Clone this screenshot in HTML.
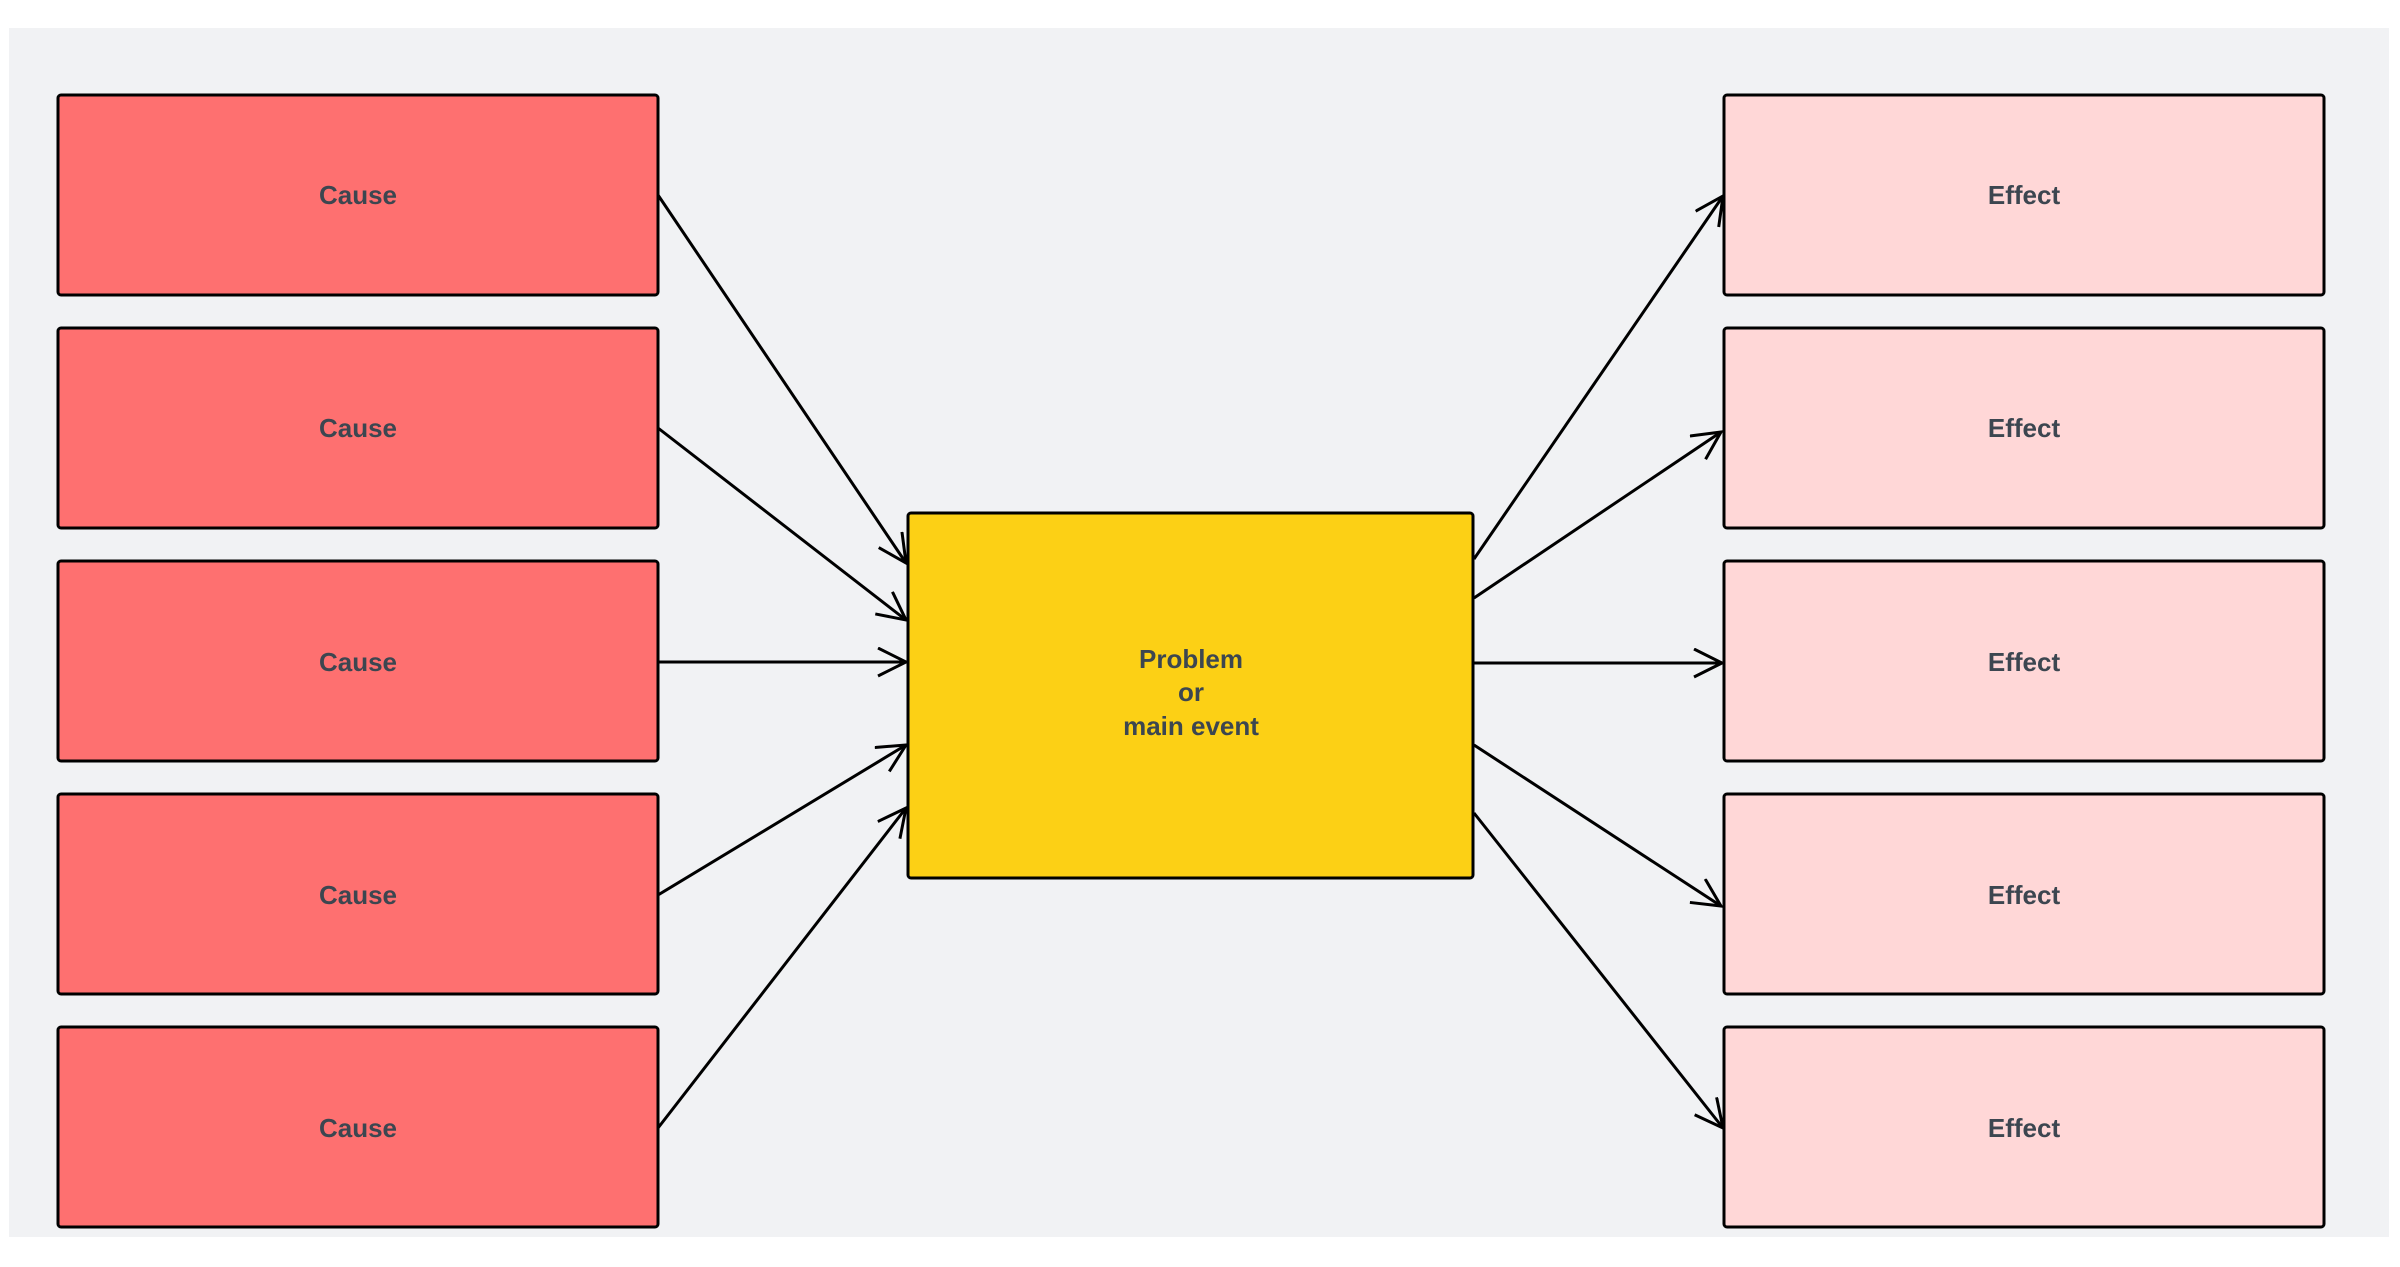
<!DOCTYPE html>
<html><head><meta charset="utf-8"><style>
body{margin:0;width:2400px;height:1267px;background:#fff;overflow:hidden}
svg{display:block}
text{font-family:"Liberation Sans",sans-serif;font-weight:bold;font-size:26px;fill:#3c4650;text-anchor:middle}
</style></head><body>
<svg width="2400" height="1267" viewBox="0 0 2400 1267">
<defs>
<marker id="a" markerUnits="userSpaceOnUse" markerWidth="40" markerHeight="40" refX="30" refY="15" orient="auto">
<polyline points="2,1 30,15 2,29" fill="none" stroke="#000" stroke-width="3"/>
</marker>
</defs>
<rect x="9" y="28" width="2380" height="1209" fill="#f1f2f4"/>
<g stroke="#000" stroke-width="3" rx="3">
<rect x="58" y="95" width="600" height="200" rx="3" fill="#fe7070"/>
<rect x="58" y="328" width="600" height="200" rx="3" fill="#fe7070"/>
<rect x="58" y="561" width="600" height="200" rx="3" fill="#fe7070"/>
<rect x="58" y="794" width="600" height="200" rx="3" fill="#fe7070"/>
<rect x="58" y="1027" width="600" height="200" rx="3" fill="#fe7070"/>
<rect x="1724" y="95" width="600" height="200" rx="3" fill="#ffd7d7"/>
<rect x="1724" y="328" width="600" height="200" rx="3" fill="#ffd7d7"/>
<rect x="1724" y="561" width="600" height="200" rx="3" fill="#ffd7d7"/>
<rect x="1724" y="794" width="600" height="200" rx="3" fill="#ffd7d7"/>
<rect x="1724" y="1027" width="600" height="200" rx="3" fill="#ffd7d7"/>
<rect x="908" y="513" width="565" height="365" rx="3" fill="#fcd015"/>
</g>
<g stroke="#000" stroke-width="3" fill="none" marker-end="url(#a)">
<line x1="658" y1="195" x2="906" y2="563"/>
<line x1="658" y1="428" x2="906" y2="620"/>
<line x1="658" y1="662" x2="906" y2="662"/>
<line x1="658" y1="895" x2="906" y2="745"/>
<line x1="658" y1="1128" x2="906" y2="808"/>
<line x1="1474" y1="559" x2="1723" y2="196"/>
<line x1="1474" y1="598" x2="1721" y2="432"/>
<line x1="1474" y1="663" x2="1722" y2="663"/>
<line x1="1474" y1="745" x2="1721" y2="906"/>
<line x1="1474" y1="813" x2="1723" y2="1128"/>
</g>
<text x="358" y="204">Cause</text>
<text x="358" y="437">Cause</text>
<text x="358" y="671">Cause</text>
<text x="358" y="904">Cause</text>
<text x="358" y="1137">Cause</text>
<text x="2024" y="204">Effect</text>
<text x="2024" y="437">Effect</text>
<text x="2024" y="671">Effect</text>
<text x="2024" y="904">Effect</text>
<text x="2024" y="1137">Effect</text>
<text x="1191" y="668">Problem</text>
<text x="1191" y="701">or</text>
<text x="1191" y="735">main event</text>
</svg>
</body></html>
